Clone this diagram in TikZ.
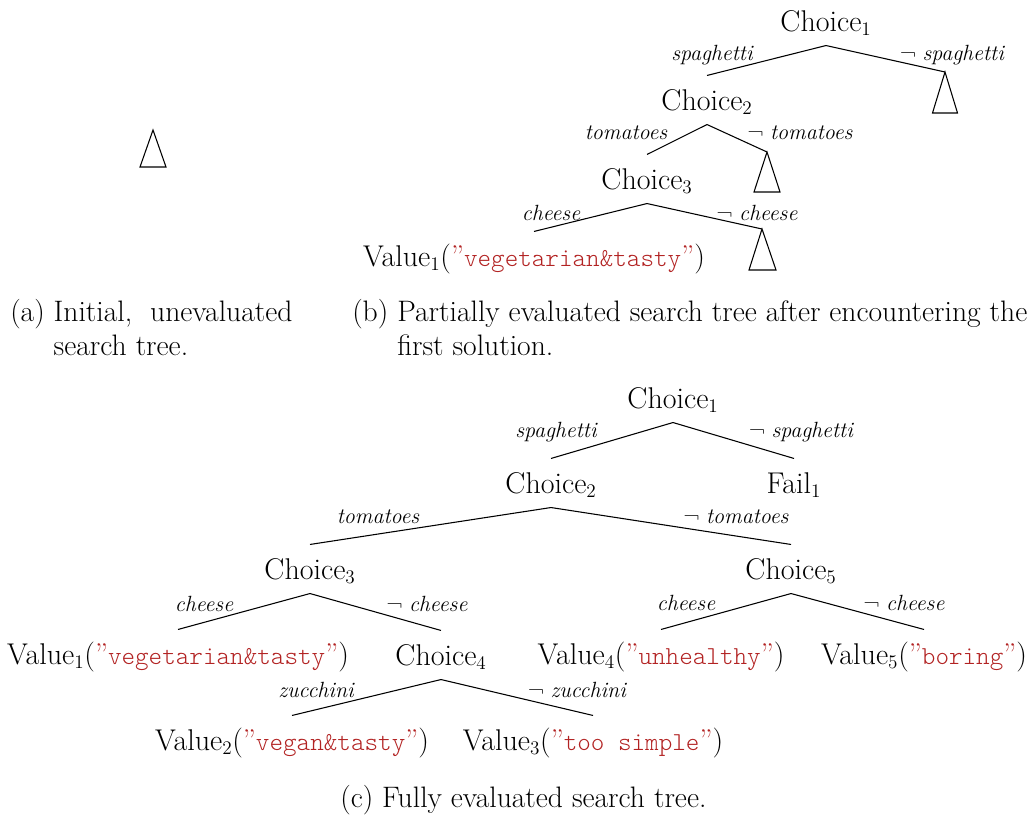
\documentclass[tikz,border=0pt]{standalone}
\usepackage{fontspec}
\setmonofont{lmmonolt10-regular.otf}
\usepackage{xcolor}
\definecolor{strred}{RGB}{178,34,34}
\newcommand{\mainsize}{\fontsize{22.5}{25}\selectfont}
\newcommand{\capsize}{\fontsize{22.2}{24.75}\selectfont}
\newcommand{\lblsize}{\fontsize{16.5}{18}\selectfont}
\newcommand{\strlit}[1]{\textcolor{strred}{”{\ttfamily\fontsize{19.4}{20}\selectfont #1}”}}
\newcommand{\spag}{{\addfontfeature{LetterSpace=7}spaghetti}}
\tikzset{
  tn/.style={font=\mainsize, text height=15.4pt, text depth=0pt, inner xsep=0pt, inner ysep=10.5pt},
  lbl/.style={font=\lblsize\itshape, inner sep=0pt, anchor=base},
  captxt/.style={font=\capsize, inner sep=0pt, anchor=base west},
  conn/.style={line width=0.8pt},
  tri/.style={line width=0.8pt, line join=miter}
}
\begin{document}
\begin{tikzpicture}[x=0.75pt, y=-0.75pt]
\useasboundingbox (0,0) rectangle (1031,816);

% (a) unevaluated tree
\coordinate (at0) at (153,130);
\draw[tri] (at0) -- ++(-13,37) -- ++(26,0) -- cycle;

% (b) partially evaluated tree
\node[tn] (b1) at (826,21) {Choice$_1$};
\node[tn] (b2) at (707,100) {Choice$_2$};
\node[tn] (b3) at (647,179) {Choice$_3$};
\node[tn] (bv1) at (534,256) {Value$_1$(\strlit{vegetarian\&tasty})};
\coordinate (bt1) at (945,72);
\coordinate (bt2) at (767,152);
\coordinate (bt3) at (762,229);
\draw[conn] (b1.south) -- (b2.north);
\draw[conn] (b1.south) -- (bt1);
\draw[conn] (b2.south) -- (b3.north);
\draw[conn] (b2.south) -- (bt2);
\draw[conn] (b3.south) -- (bv1.north);
\draw[conn] (b3.south) -- (bt3);
\draw[tri] (bt1) -- ++(-12.5,41) -- ++(25,0) -- cycle;
\draw[tri] (bt2) -- ++(-13,40) -- ++(26,0) -- cycle;
\draw[tri] (bt3) -- ++(-13,41) -- ++(27,0) -- cycle;
\node[lbl] (bl1) at (712,61) {\spag};
\node[lbl] (bl2) at (952,61) {\upshape¬ \itshape\spag};
\node[lbl] (bl3) at (626,140) {tomatoes};
\node[lbl] (bl4) at (800,140) {\upshape¬ \itshape tomatoes};
\node[lbl] (bl5) at (551,221) {cheese};
\node[lbl] (bl6) at (757,221) {\upshape¬ \itshape cheese};

% captions (a) and (b)
\node[captxt] (capa) at (10,322) {\begin{tabular}[t]{@{}l@{\ }l@{}}(a)&Initial,\ \ unevaluated\\&search tree.\end{tabular}};
\node[captxt] (capb) at (352,322) {\begin{tabular}[t]{@{}l@{\ }l@{}}(b)&Partially evaluated search tree after encountering the\\&first solution.\end{tabular}};

% (c) fully evaluated tree
\node[tn] (c1) at (673,398) {Choice$_1$};
\node[tn] (c2) at (551,483) {Choice$_2$};
\node[tn] (cf1) at (794,483) {Fail$_1$};
\node[tn] (c3) at (310,569) {Choice$_3$};
\node[tn] (c5) at (791,569) {Choice$_5$};
\node[tn] (cv1) at (178,654) {Value$_1$(\strlit{vegetarian\&tasty})};
\node[tn] (c4) at (441,655) {Choice$_4$};
\node[tn] (cv4) at (661,654) {Value$_4$(\strlit{unhealthy})};
\node[tn] (cv5) at (924,654) {Value$_5$(\strlit{boring})};
\node[tn] (cv2) at (292,740) {Value$_2$(\strlit{vegan\&tasty})};
\node[tn] (cv3) at (593,740) {Value$_3$(\strlit{too simple})};
\draw[conn] (c1.south) -- (c2.north);
\draw[conn] (c1.south) -- (cf1.north);
\draw[conn] (c2.south) -- (c3.north);
\draw[conn] (c2.south) -- (c5.north);
\draw[conn] (c3.south) -- (cv1.north);
\draw[conn] (c3.south) -- (c4.north);
\draw[conn] (c5.south) -- (cv4.north);
\draw[conn] (c5.south) -- (cv5.north);
\draw[conn] (c4.south) -- (cv2.north);
\draw[conn] (c4.south) -- (cv3.north);
\node[lbl] (cl1) at (556,437) {\spag};
\node[lbl] (cl2) at (801,437) {\upshape¬ \itshape\spag};
\node[lbl] (cl3) at (378,523) {tomatoes};
\node[lbl] (cl4) at (736,523) {\upshape¬ \itshape tomatoes};
\node[lbl] (cl5) at (204,611) {cheese};
\node[lbl] (cl6) at (427,611) {\upshape¬ \itshape cheese};
\node[lbl] (cl7) at (316,697) {zucchini};
\node[lbl] (cl8) at (577,697) {\upshape¬ \itshape zucchini};
\node[lbl] (cl9) at (686,610) {cheese};
\node[lbl] (cl10) at (904,610) {\upshape¬ \itshape cheese};

% caption (c)
\node[captxt] (capc) at (340,807) {(c) Fully evaluated search tree.};
\end{tikzpicture}
\end{document}
